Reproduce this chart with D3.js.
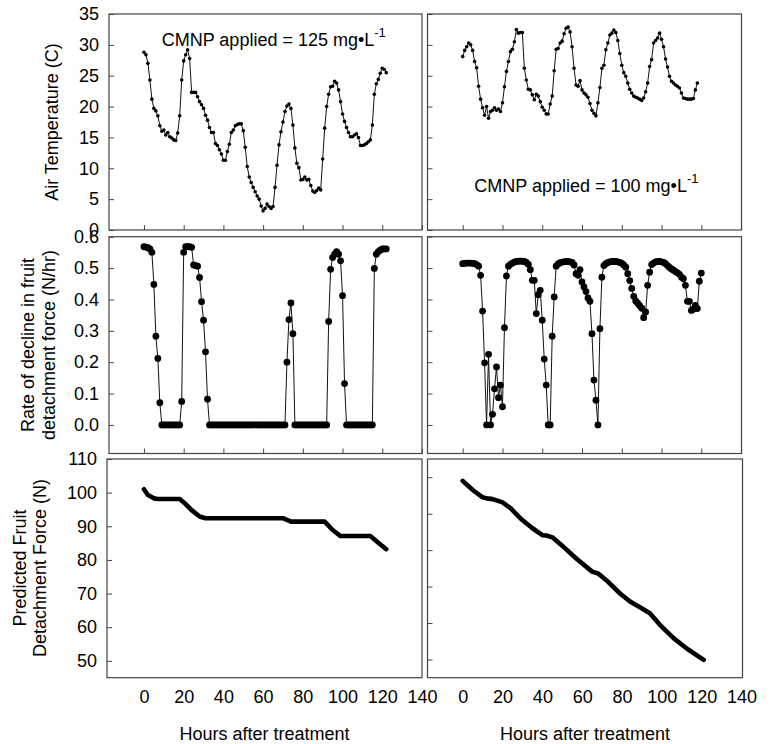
<!DOCTYPE html>
<html>
<head>
<meta charset="utf-8">
<script src="https://cdn.jsdelivr.net/npm/d3@7"></script>
<style>
  body { margin: 0; background: #fff; }
  text { font-family: "Liberation Sans", Arial, sans-serif; }
</style>
</head>
<body>
<svg id="chart" width="771" height="744"></svg>
<script>

// ---- data ----
// hourly air temperature (C), hour = array index
var tempLeft = [28.8, 28.4, 27.0, 24.3, 21.2, 19.7, 19.3, 18.5, 16.9, 16.0,
  16.2, 15.4, 15.8, 15.1, 14.9, 14.6, 14.5, 15.7, 18.5, 24.3,
  27.4, 28.4, 29.2, 27.8, 22.3, 22.3, 22.3, 21.6, 20.8, 20.3,
  19.7, 18.6, 17.8, 16.6, 15.8, 15.8, 14.0, 13.7, 13.0, 12.3,
  11.3, 11.3, 12.7, 13.9, 15.8, 16.2, 16.9, 17.1, 17.2, 17.2,
  16.1, 13.4, 10.3, 8.6, 7.7, 6.9, 6.2, 5.5, 5.0, 3.9,
  3.1, 3.5, 4.2, 3.8, 3.5, 3.8, 6.9, 10.5, 13.8, 15.9,
  17.5, 19.2, 20.1, 20.4, 19.7, 17.0, 13.3, 10.8, 10.1, 8.1,
  8.2, 8.6, 8.1, 8.2, 7.2, 6.3, 6.1, 6.4, 6.8, 6.5,
  11.5, 16.5, 20.0, 22.0, 23.2, 23.3, 24.1, 23.8, 22.7, 20.8,
  18.8, 17.6, 16.6, 15.8, 15.1, 15.1, 15.4, 15.6, 15.0, 13.7,
  13.7, 13.8, 14.0, 14.3, 14.6, 17.0, 22.0, 23.7, 24.4, 25.4,
  26.2, 26.0, 25.5];

var tempRight = [28.1, 29.1, 29.7, 30.3, 30.0, 29.1, 27.3, 26.3, 23.3, 21.2,
  19.8, 18.6, 20.0, 18.1, 19.2, 19.4, 19.8, 19.4, 19.6, 19.2,
  20.6, 23.2, 25.7, 27.3, 28.9, 29.3, 30.5, 32.5, 31.9, 32.0,
  32.0, 26.2, 24.3, 22.8, 22.7, 21.9, 21.1, 22.0, 21.7, 20.8,
  19.9, 19.4, 18.8, 18.8, 20.4, 21.7, 25.8, 29.3, 29.4, 30.3,
  30.6, 31.8, 32.7, 32.9, 32.1, 29.7, 26.2, 23.5, 23.3, 24.2,
  22.7, 22.2, 21.9, 21.5, 20.5, 19.4, 18.9, 18.5, 20.6, 23.1,
  26.2, 26.7, 29.2, 30.3, 31.6, 31.9, 32.4, 32.0, 30.7, 28.6,
  26.7, 25.5, 24.9, 23.8, 22.8, 22.2, 21.7, 21.5, 21.4, 21.2,
  21.0, 21.4, 22.4, 23.8, 26.5, 27.6, 30.3, 30.7, 31.1, 31.9,
  30.9, 29.7, 27.7, 26.4, 24.9, 24.1, 23.8, 23.5, 23.3, 23.0,
  22.2, 21.4, 21.3, 21.2, 21.2, 21.2, 21.3, 22.7, 23.8];

// hourly rate of decline in fruit detachment force (N/hr)
var rateLeft = [0.568, 0.567, 0.565, 0.561, 0.55, 0.448, 0.283, 0.212, 0.071, 0,
  0, 0, 0, 0, 0, 0, 0, 0, 0, 0.075,
  0.55, 0.568, 0.568, 0.568, 0.566, 0.51, 0.508, 0.506, 0.47, 0.393,
  0.334, 0.233, 0.082, 0, 0, 0, 0, 0, 0, 0,
  0, 0, 0, 0, 0, 0, 0, 0, 0, 0,
  0, 0, 0, 0, 0, 0, 0, 0, 0, 0,
  0, 0, 0, 0, 0, 0, 0, 0, 0, 0,
  0, 0, 0.2, 0.336, 0.389, 0.291, 0, 0, 0, 0,
  0, 0, 0, 0, 0, 0, 0, 0, 0, 0,
  0, 0, 0, 0.33, 0.496, 0.534, 0.544, 0.552, 0.544, 0.523,
  0.412, 0.132, 0, 0, 0, 0, 0, 0, 0, 0,
  0, 0, 0, 0, 0, 0, 0.499, 0.544, 0.552, 0.557,
  0.561, 0.561, 0.561];

var rateRight = [0.514, 0.515, 0.516, 0.516, 0.516, 0.515, 0.514, 0.511, 0.506, 0.477,
  0.363, 0.198, 0, 0.225, 0, 0.034, 0.115, 0.185, 0.087, 0.127,
  0.058, 0.31, 0.475, 0.506, 0.512, 0.516, 0.519, 0.521, 0.522, 0.522,
  0.522, 0.521, 0.518, 0.512, 0.495, 0.461, 0.461, 0.355, 0.415, 0.429,
  0.334, 0.21, 0.127, 0, 0, 0.283, 0.408, 0.506, 0.513, 0.517,
  0.519, 0.52, 0.521, 0.521, 0.52, 0.518, 0.51, 0.482, 0.477, 0.495,
  0.456, 0.44, 0.425, 0.405, 0.394, 0.291, 0.143, 0.079, 0, 0.307,
  0.471, 0.508, 0.514, 0.518, 0.52, 0.521, 0.521, 0.521, 0.52, 0.518,
  0.515, 0.51, 0.503, 0.482, 0.46, 0.435, 0.41, 0.395, 0.388, 0.38,
  0.372, 0.342, 0.36, 0.445, 0.487, 0.511, 0.516, 0.52, 0.521, 0.521,
  0.52, 0.518, 0.514, 0.508, 0.502, 0.497, 0.493, 0.489, 0.485, 0.48,
  0.471, 0.466, 0.445, 0.394, 0.394, 0.365, 0.369, 0.381, 0.371, 0.458,
  0.484];

// predicted fruit detachment force (N), breakpoints of the line
var fdfLeftHours  = [0, 2, 5, 7, 18, 21, 24, 28, 31, 70, 74, 91, 95, 99, 114, 118, 122];
var fdfLeftValues = [101, 99.3, 98.3, 98.1, 98.1, 96.6, 94.8, 92.9, 92.4, 92.4, 91.4, 91.4, 88.9, 87.1, 87.1, 85.1, 83.2];

var fdfRightHours  = [0, 5, 10, 12, 15, 20, 24, 29, 35, 40, 42, 45, 51, 57, 63, 65, 68, 73, 79, 84, 89, 94, 99, 106, 113, 121];
var fdfRightValues = [99.0, 96.5, 94.5, 94.2, 94.0, 93.1, 91.5, 88.7, 86.0, 84.1, 84.0, 83.5, 80.7, 77.7, 75.0, 74.1, 73.6, 71.3, 68.1, 65.9, 64.3, 62.7, 59.5, 55.8, 52.8, 49.9];

// axis ticks
var hourTicks = [0, 20, 40, 60, 80, 100, 120, 140];
var tempTicks = [0, 5, 10, 15, 20, 25, 30, 35];
var rateTicks = [0, 0.1, 0.2, 0.3, 0.4, 0.5, 0.6];
var fdfLeftTicks = [50, 60, 70, 80, 90, 100, 110];
var fdfRightTicks = [50, 60, 70, 80, 90, 100];

var svg = d3.select("#chart");
var frameColor = "#444";

// panel boxes: [left, right, top, bottom]
var panels = [
  {box: [109, 422, 14, 230], xdom: [-17.6, 140], ydom: [0, 35], yticks: tempTicks, ylab: true,
   fmt: d3.format("d"), kind: "temp", values: tempLeft},
  {box: [427.5, 741.5, 14, 230], xdom: [-17.7, 140.2], ydom: [0, 35], yticks: tempTicks, ylab: false,
   kind: "temp", values: tempRight},
  {box: [109, 422, 236.7, 453.5], xdom: [-17.6, 140], ydom: [-0.091, 0.6], yticks: rateTicks, ylab: true,
   fmt: d3.format(".1f"), kind: "rate", values: rateLeft},
  {box: [427.5, 741.5, 236.7, 453.5], xdom: [-17.7, 140.2], ydom: [-0.091, 0.6], yticks: rateTicks, ylab: false,
   kind: "rate", values: rateRight},
  {box: [107, 422, 459, 677.7], xdom: [-18.6, 140], ydom: [45, 110], yticks: fdfLeftTicks, ylab: true,
   fmt: d3.format("d"), kind: "fdf", hours: fdfLeftHours, values: fdfLeftValues, xlab: true},
  {box: [427.5, 742.5, 459, 677.7], xdom: [-17.7, 140.5], ydom: [45, 105], yticks: fdfRightTicks, ylab: false,
   kind: "fdf", hours: fdfRightHours, values: fdfRightValues, xlab: true}
];

panels.forEach(function(p) {
  var x = d3.scaleLinear().domain(p.xdom).range([p.box[0], p.box[1]]),
      y = d3.scaleLinear().domain(p.ydom).range([p.box[3], p.box[2]]);

  var g = svg.append("g");

  // y axis, ticks pointing inward
  var yAxis = g.append("g")
      .attr("transform", "translate(" + p.box[0] + ",0)")
      .call(d3.axisLeft(y).tickValues(p.yticks)
            .tickSizeInner(-5).tickSizeOuter(0).tickPadding(10)
            .tickFormat(p.ylab ? p.fmt : ""));
  yAxis.select(".domain").remove();
  yAxis.selectAll("line").attr("stroke", frameColor);
  yAxis.selectAll("text").attr("font-size", 18).attr("fill", "#000")
      .style("font-family", "'Liberation Sans', Arial, sans-serif");

  // x axis
  var xAxis = g.append("g")
      .attr("transform", "translate(0," + p.box[3] + ")")
      .call(d3.axisBottom(x).tickValues(hourTicks)
            .tickSizeInner(p.xlab ? 0 : -5).tickSizeOuter(0).tickPadding(12.5)
            .tickFormat(p.xlab ? d3.format("d") : ""));
  xAxis.select(".domain").remove();
  xAxis.selectAll("line").attr("stroke", frameColor);
  xAxis.selectAll("text").attr("font-size", 18).attr("fill", "#000")
      .style("font-family", "'Liberation Sans', Arial, sans-serif");

  // frame
  g.append("rect")
      .attr("x", p.box[0]).attr("y", p.box[2])
      .attr("width", p.box[1] - p.box[0]).attr("height", p.box[3] - p.box[2])
      .attr("fill", "none").attr("stroke", frameColor).attr("stroke-width", 1.2);

  if (p.kind === "fdf") {
    var pts = p.hours.map(function(h, i) { return [h, p.values[i]]; });
    g.append("path")
        .attr("d", d3.line().x(function(d) { return x(d[0]); }).y(function(d) { return y(d[1]); })(pts))
        .attr("fill", "none").attr("stroke", "#000").attr("stroke-width", 4.6)
        .attr("stroke-linejoin", "round").attr("stroke-linecap", "round");
  } else {
    var r = p.kind === "temp" ? 1.8 : 3.4;
    g.append("path")
        .attr("d", d3.line().x(function(d, i) { return x(i); }).y(function(d) { return y(d); })(p.values))
        .attr("fill", "none").attr("stroke", "#111").attr("stroke-width", 1);
    g.selectAll("circle.pt").data(p.values).enter().append("circle")
        .attr("class", "pt")
        .attr("cx", function(d, i) { return x(i); })
        .attr("cy", function(d) { return y(d); })
        .attr("r", r).attr("fill", "#000");
  }
});

// annotations
function cmnp(xPos, yPos, dose) {
  var t = svg.append("text").attr("x", xPos).attr("y", yPos).attr("font-size", 18).attr("fill", "#000");
  t.append("tspan").text("CMNP applied = " + dose + " mg\u2022L");
  t.append("tspan").attr("font-size", 13).attr("dy", -9).text("-1");
}
cmnp(161.7, 46, 125);
cmnp(474.3, 192, 100);

// axis titles
function vlabel(lines, xs, yc) {
  lines.forEach(function(s, i) {
    svg.append("text")
        .attr("transform", "translate(" + xs[i] + "," + yc + ") rotate(-90)")
        .attr("text-anchor", "middle").attr("font-size", 18).attr("fill", "#000")
        .text(s);
  });
}
vlabel(["Air Temperature (C)"], [58], 122);
vlabel(["Rate of decline in fruit", "detachment force (N/hr)"], [34, 54.5], 345);
vlabel(["Predicted Fruit", "Detachment Force (N)"], [25.5, 46.2], 568);

[264.5, 585].forEach(function(cx) {
  svg.append("text").attr("x", cx).attr("y", 740)
      .attr("text-anchor", "middle").attr("font-size", 18).attr("fill", "#000")
      .text("Hours after treatment");
});

</script>
</body>
</html>
